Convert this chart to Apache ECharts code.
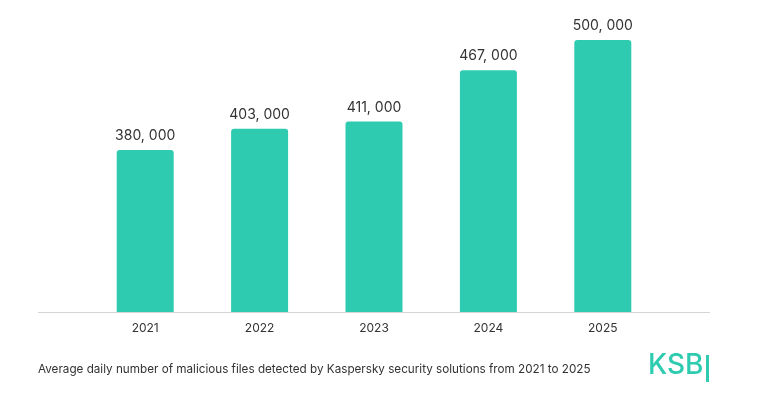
<!DOCTYPE html><html><head><meta charset="utf-8"><script src="https://cdn.jsdelivr.net/npm/echarts@6/dist/echarts.min.js"></script></head><body style="margin:0;background:#fff"><div id="c" style="width:768px;height:402px"></div><script>
const categories=['2021','2022','2023','2024','2025'];
const values=[380000,403000,411000,467000,500000];
const caption='Average daily number of malicious files detected by Kaspersky security solutions from 2021 to 2025';
const c=echarts.init(document.getElementById('c'));
c.setOption({animation:false,
grid:{left:88,right:108,top:40,bottom:90},
xAxis:{type:'category',data:categories,axisLine:{show:false},axisTick:{show:false},axisLabel:{color:'#333',fontSize:12,fontFamily:'Inter',margin:10}},
yAxis:{type:'value',min:203000,max:500000,show:false,splitLine:{show:false}},
series:[{type:'bar',data:values,barWidth:57,itemStyle:{color:'#2ecbb1',borderRadius:[3,3,0,0]},
label:{show:true,position:'top',distance:7,color:'#333',fontSize:14,fontFamily:'Inter',formatter:p=>p.value.toLocaleString('en-US').replace(',',', ')}}],
graphic:[{type:'line',shape:{x1:38,y1:312.5,x2:710,y2:312.5},style:{stroke:'#d5d5d5',lineWidth:1}},
{type:'text',left:38,top:363,style:{text:caption,fill:'#333',fontSize:11.7,fontFamily:'Inter'}},
{type:'text',left:648,top:352,style:{text:'KSB',fill:'#2ecbb1',fontSize:28,fontWeight:500,fontFamily:'Inter'}},
{type:'rect',shape:{x:706,y:355,width:3,height:27},style:{fill:'#2ecbb1'}}]});
</script></body></html>
